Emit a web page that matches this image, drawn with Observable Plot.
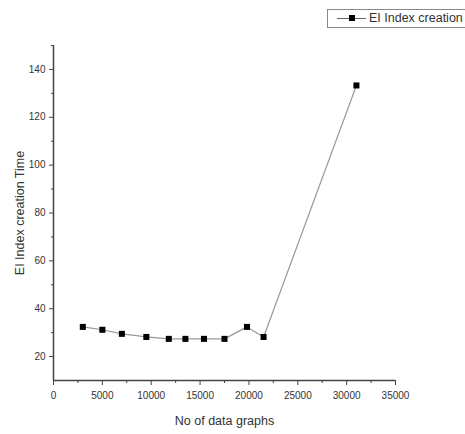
<!DOCTYPE html>
<html>
<head>
<meta charset="utf-8">
<script src="https://cdn.jsdelivr.net/npm/d3@7"></script>
<script src="https://cdn.jsdelivr.net/npm/@observablehq/plot@0.6"></script>
<style>
  html, body { margin: 0; padding: 0; background: #fff; overflow: hidden; width: 465px; height: 434px; }
  #wrap { position: relative; width: 465px; height: 434px; }
  #legend { position: absolute; left: 327px; top: 9px; width: 150px; height: 19px; border: 1px solid #888; background: #fff;
    font-family: "Liberation Sans", Arial, sans-serif; font-size: 12.5px; color: #333; box-sizing: border-box; white-space: nowrap; }
  #legend .ln { position: absolute; left: 9px; top: 8px; width: 29px; height: 1px; background: #666; }
  #legend .sq { position: absolute; left: 21px; top: 5px; width: 6px; height: 6px; background: #000; }
  #legend .tx { position: absolute; left: 41px; top: 1px; line-height: 15px; }
</style>
</head>
<body>
<div id="wrap"></div>
<script>
const seriesName = "EI Index creation";
const xValues = [3000, 5000, 7000, 9500, 11800, 13500, 15400, 17500, 19800, 21500, 31000];
const yValues = [32.4, 31.2, 29.5, 28.2, 27.4, 27.4, 27.4, 27.4, 32.4, 28.2, 133.3];
const xTicks = [0, 5000, 10000, 15000, 20000, 25000, 30000, 35000];
const xMinorTicks = [2500, 7500, 12500, 17500, 22500, 27500, 32500];
const yTicks = [20, 40, 60, 80, 100, 120, 140];
const yMinorTicks = [30, 50, 70, 90, 110, 130, 150];
const xLabel = "No of data graphs";
const yLabel = "EI Index creation Time";

const data = xValues.map((x, i) => ({x, y: yValues[i]}));

const chart = Plot.plot({
  width: 465,
  height: 434,
  marginLeft: 53,
  marginRight: 70,
  marginTop: 45,
  marginBottom: 54,
  style: {fontFamily: "'Liberation Sans', Arial, sans-serif", fontSize: "10px", color: "#333", background: "#fff"},
  x: {type: "linear", domain: [0, 35000]},
  y: {type: "linear", domain: [10, 150]},
  marks: [
    Plot.ruleX([0], {stroke: "#444", strokeWidth: 1.5}),
    Plot.ruleY([10], {stroke: "#444", strokeWidth: 1.5}),
    Plot.axisX({ticks: xTicks, tickSize: 5, tickPadding: 6, tickFormat: d => String(d), label: null, stroke: "#444"}),
    Plot.axisY({ticks: yTicks, tickSize: 4, tickPadding: 4, tickFormat: d => String(d), label: null, stroke: "#444"}),
    Plot.axisX({ticks: xMinorTicks, tickSize: 3, tickFormat: () => "", label: null, stroke: "#444"}),
    Plot.axisY({ticks: yMinorTicks, tickSize: 2, tickFormat: () => "", label: null, stroke: "#444"}),
    Plot.line(data, {x: "x", y: "y", stroke: "#999", strokeWidth: 1.2}),
    Plot.dot(data, {x: "x", y: "y", symbol: "square", r: 3.4, fill: "#000", stroke: "none"}),
    Plot.text([xLabel], {frameAnchor: "bottom", dy: 40, lineAnchor: "middle", textAnchor: "middle", fontSize: 12.5, fill: "#333"}),
    Plot.text([yLabel], {frameAnchor: "left", dx: -34, rotate: -90, textAnchor: "middle", lineAnchor: "middle", fontSize: 12.5, fill: "#333"})
  ]
});

const wrap = document.getElementById("wrap");
wrap.appendChild(chart);
const legend = document.createElement("div");
legend.id = "legend";
legend.innerHTML = '<span class="ln"></span><span class="sq"></span><span class="tx"></span>';
legend.querySelector(".tx").textContent = seriesName;
wrap.appendChild(legend);
</script>
</body>
</html>
